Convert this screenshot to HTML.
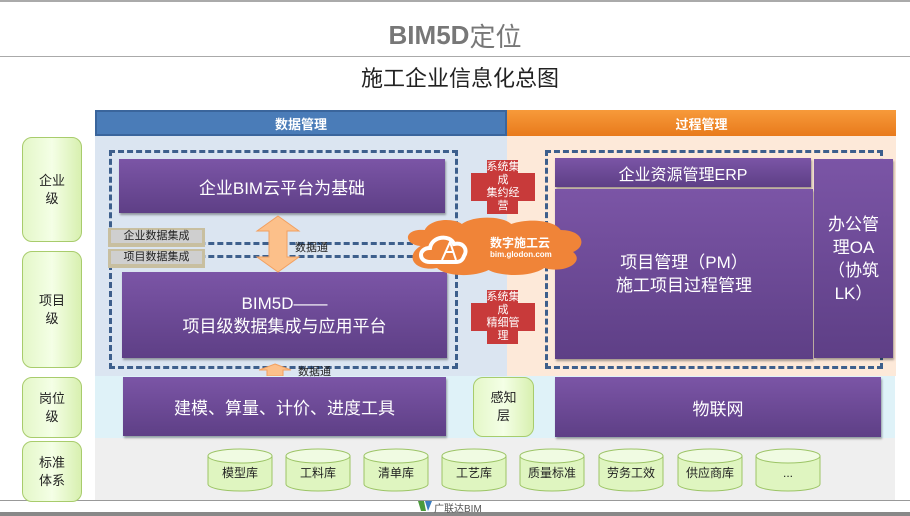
<!DOCTYPE html>
<html><head><meta charset="utf-8"><style>
*{margin:0;padding:0;box-sizing:border-box}
body{width:910px;height:516px;position:relative;background:#fff;overflow:hidden;font-family:"Liberation Sans","Noto Sans CJK SC",sans-serif}
.a{position:absolute}
.c{display:flex;align-items:center;justify-content:center;text-align:center}
.pur{background:linear-gradient(#7b55a6,#5e3f86);color:#fff;box-shadow:1px 2px 2px rgba(0,0,0,.35)}
.grn{background:linear-gradient(90deg,#e4f7c8,#f4ffe6 50%,#d8f0b0);border:1.5px solid #a8cc6c;border-radius:10px;font-size:13px;color:#222;line-height:18px}
.tan{background:#c8bfa0;padding:2px 3px}
.tan div{background:#cfcfcf;font-size:11px;color:#222;text-align:center;line-height:13px}
.dash{border:3px dashed #3d5f8c}
.red{color:#fff;font-size:11px;line-height:13px}
</style></head><body>
<div class="a" style="left:0;top:0;width:910px;height:2px;background:#aaa"></div>
<div class="a c" style="left:300px;top:18px;width:310px;height:34px;font-size:26px;font-weight:bold;color:#777">BIM5D<span style="font-weight:normal">定位</span></div>
<div class="a" style="left:0;top:56px;width:910px;height:1px;background:#aaa"></div>
<div class="a c" style="left:300px;top:62px;width:320px;height:30px;font-size:22px;color:#222">施工企业信息化总图</div>

<div class="a c" style="left:95px;top:110px;width:412px;height:26px;background:#4a7cb8;color:#fff;font-size:13px;font-weight:bold;border:2px solid #3a659c">数据管理</div>
<div class="a c" style="left:507px;top:110px;width:389px;height:26px;background:linear-gradient(#f79a3a,#e87a1c);color:#fff;font-size:13px;font-weight:bold">过程管理</div>
<div class="a" style="left:95px;top:136px;width:412px;height:240px;background:#dbe5f1"></div>
<div class="a" style="left:507px;top:136px;width:389px;height:240px;background:#fde9d9"></div>
<div class="a" style="left:95px;top:376px;width:800px;height:62px;background:#dff2f8"></div>
<div class="a" style="left:95px;top:438px;width:800px;height:63px;background:#efefef"></div>
<div class="a" style="left:0;top:500px;width:910px;height:1px;background:#999"></div>
<div class="a" style="left:0;top:512px;width:910px;height:4px;background:#888"></div>

<div class="a c grn" style="left:22px;top:137px;width:60px;height:105px">企业<br>级</div>
<div class="a c grn" style="left:22px;top:251px;width:60px;height:117px">项目<br>级</div>
<div class="a c grn" style="left:22px;top:377px;width:60px;height:61px">岗位<br>级</div>
<div class="a c grn" style="left:22px;top:441px;width:60px;height:61px">标准<br>体系</div>

<div class="a dash" style="left:109px;top:150px;width:349px;height:95px"></div>
<div class="a dash" style="left:109px;top:255px;width:349px;height:114px"></div>
<div class="a c pur" style="left:119px;top:159px;width:326px;height:54px;font-size:17px">企业BIM云平台为基础</div>
<div class="a c pur" style="left:122px;top:272px;width:325px;height:86px;font-size:17px;line-height:23px">BIM5D——<br>项目级数据集成与应用平台</div>
<div class="a tan" style="left:108px;top:228px;width:97px;height:19px"><div>企业数据集成</div></div>
<div class="a tan" style="left:108px;top:249px;width:97px;height:19px"><div>项目数据集成</div></div>
<svg class="a" style="left:255px;top:215px" width="46" height="58"><polygon points="23,1 44,16 32,16 32,42 44,42 23,57 2,42 14,42 14,16 2,16" fill="#fcc08a" stroke="#f2a060"/></svg>
<div class="a" style="left:295px;top:239px;font-size:11px;color:#222">数据通</div>
<svg class="a" style="left:258px;top:363px" width="34" height="13"><polygon points="17,1 33,7 25,7 25,13 9,13 9,7 1,7" fill="#fcc08a" stroke="#f2a060"/></svg>
<div class="a" style="left:298px;top:363px;font-size:11px;color:#222">数据通</div>

<svg class="a" style="left:471px;top:160px" width="64" height="54"><path d="M16 0H47V13H64V41H47V54H16V41H0V13H16Z" fill="#c83a3a"/></svg>
<div class="a c red" style="left:471px;top:160px;width:64px;height:54px">系统集<br>成<br>集约经<br>营</div>
<svg class="a" style="left:471px;top:290px" width="64" height="54"><path d="M16 0H47V13H64V41H47V54H16V41H0V13H16Z" fill="#c83a3a"/></svg>
<div class="a c red" style="left:471px;top:290px;width:64px;height:54px">系统集<br>成<br>精细管<br>理</div>

<div class="a dash" style="left:545px;top:150px;width:338px;height:219px"></div>
<div class="a c pur" style="left:555px;top:158px;width:256px;height:29px;font-size:16px">企业资源管理ERP</div>
<div class="a c pur" style="left:555px;top:189px;width:258px;height:170px;font-size:17px;line-height:23px">项目管理（PM）<br>施工项目过程管理</div>
<div class="a c pur" style="left:814px;top:159px;width:79px;height:199px;font-size:17px;line-height:23px">办公管<br>理OA<br>（协筑<br>LK）</div>

<svg class="a" style="left:400px;top:216px;z-index:5" width="190" height="62"><g transform="scale(1.03,1)"><path d="M20 30C2 28 4 12 24 14C30 2 52 2 60 8C72 -1 100 0 108 8C124 2 150 4 156 14C178 14 182 30 168 36C180 46 160 58 140 52C126 62 96 60 86 54C70 62 44 60 36 52C14 56 4 40 20 30Z" fill="#f08438"/></g><path d="M30 46C18 46 18 32 30 32C32 20 50 18 54 28C64 26 68 34 64 40C62 46 58 46 56 46Z" fill="none" stroke="#fff" stroke-width="4"/><path d="M42 44L50 26L56 44M46 36H54" stroke="#fff" stroke-width="2" fill="none"/></svg>
<div class="a" style="left:490px;top:234px;font-size:12px;color:#fff;font-weight:bold;z-index:6">数字施工云</div>
<div class="a" style="left:490px;top:250px;font-size:8px;color:#fff;font-weight:bold;z-index:6">bim.glodon.com</div>

<div class="a c pur" style="left:123px;top:377px;width:323px;height:59px;font-size:17px">建模、算量、计价、进度工具</div>
<div class="a c grn" style="left:473px;top:377px;width:61px;height:60px">感知<br>层</div>
<div class="a c pur" style="left:555px;top:377px;width:326px;height:60px;font-size:17px">物联网</div>

<svg class="a" style="left:0;top:448px" width="910" height="46">
<g font-family="Liberation Sans,Noto Sans CJK SC,sans-serif" font-size="12" text-anchor="middle" fill="#222">
<g transform="translate(208,0)"><path d="M0 8V36A32 7 0 0 0 64 36V8Z" fill="#dff5c0" stroke="#9cc466"/><ellipse cx="32" cy="8" rx="32" ry="7" fill="#f0fbe2" stroke="#9cc466"/><text x="32" y="29">模型库</text></g>
<g transform="translate(286,0)"><path d="M0 8V36A32 7 0 0 0 64 36V8Z" fill="#dff5c0" stroke="#9cc466"/><ellipse cx="32" cy="8" rx="32" ry="7" fill="#f0fbe2" stroke="#9cc466"/><text x="32" y="29">工料库</text></g>
<g transform="translate(364,0)"><path d="M0 8V36A32 7 0 0 0 64 36V8Z" fill="#dff5c0" stroke="#9cc466"/><ellipse cx="32" cy="8" rx="32" ry="7" fill="#f0fbe2" stroke="#9cc466"/><text x="32" y="29">清单库</text></g>
<g transform="translate(442,0)"><path d="M0 8V36A32 7 0 0 0 64 36V8Z" fill="#dff5c0" stroke="#9cc466"/><ellipse cx="32" cy="8" rx="32" ry="7" fill="#f0fbe2" stroke="#9cc466"/><text x="32" y="29">工艺库</text></g>
<g transform="translate(520,0)"><path d="M0 8V36A32 7 0 0 0 64 36V8Z" fill="#dff5c0" stroke="#9cc466"/><ellipse cx="32" cy="8" rx="32" ry="7" fill="#f0fbe2" stroke="#9cc466"/><text x="32" y="29">质量标准</text></g>
<g transform="translate(599,0)"><path d="M0 8V36A32 7 0 0 0 64 36V8Z" fill="#dff5c0" stroke="#9cc466"/><ellipse cx="32" cy="8" rx="32" ry="7" fill="#f0fbe2" stroke="#9cc466"/><text x="32" y="29">劳务工效</text></g>
<g transform="translate(678,0)"><path d="M0 8V36A32 7 0 0 0 64 36V8Z" fill="#dff5c0" stroke="#9cc466"/><ellipse cx="32" cy="8" rx="32" ry="7" fill="#f0fbe2" stroke="#9cc466"/><text x="32" y="29">供应商库</text></g>
<g transform="translate(756,0)"><path d="M0 8V36A32 7 0 0 0 64 36V8Z" fill="#dff5c0" stroke="#9cc466"/><ellipse cx="32" cy="8" rx="32" ry="7" fill="#f0fbe2" stroke="#9cc466"/><text x="32" y="29">...</text></g>
</g></svg>
<svg class="a" style="left:418px;top:501px" width="14" height="10"><polygon points="0,0 6,0 8,10 3,10" fill="#4a9a3a"/><polygon points="7,0 14,0 10,10" fill="#3a7cc0"/></svg>
<div class="a" style="left:434px;top:500px;font-size:10px;color:#555">广联达BIM</div>
</body></html>
